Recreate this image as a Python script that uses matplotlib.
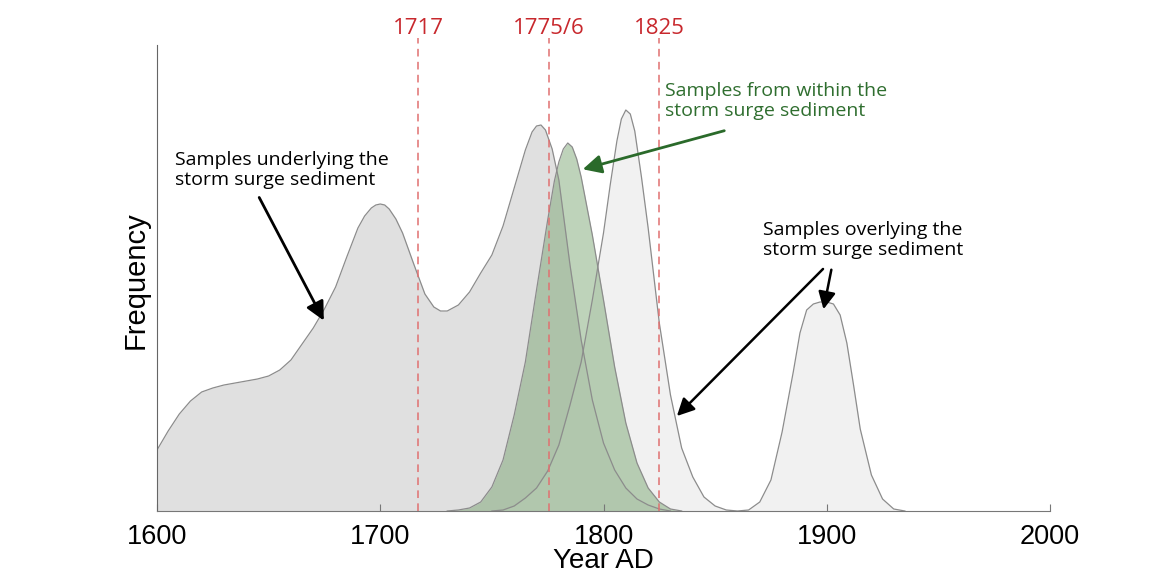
import matplotlib
matplotlib.use('Agg')
import matplotlib.pyplot as plt
import numpy as np

# frequency curves (arbitrary units)
under_year = [1600, 1605, 1610, 1615, 1620, 1625, 1630, 1635, 1640, 1645, 1650, 1655,
              1660, 1665, 1670, 1675, 1680, 1685, 1690, 1693, 1696, 1698, 1700, 1702,
              1704, 1707, 1710, 1715, 1720, 1724, 1727, 1730, 1735, 1740, 1745, 1750,
              1755, 1760, 1765, 1768, 1770, 1772, 1774, 1777, 1780, 1785, 1790, 1795,
              1800, 1805, 1810, 1815, 1820, 1825, 1830]
under_freq = [61, 80, 97, 110, 119, 123, 126, 128, 130, 132, 135, 141,
              151, 167, 183, 202, 224, 254, 283, 295, 303, 306, 307, 306,
              302, 292, 278, 247, 217, 204, 200, 200, 206, 219, 238, 256,
              285, 323, 361, 379, 385, 386, 381, 362, 331, 246, 171, 111,
              68, 41, 23, 12, 6, 2, 0]

within_year = [1730, 1735, 1740, 1745, 1750, 1755, 1760, 1765, 1770, 1775, 1778, 1780,
               1782, 1784, 1786, 1788, 1790, 1795, 1800, 1805, 1810, 1815, 1820, 1825,
               1830, 1835]
within_freq = [0, 1, 3, 9, 24, 51, 96, 149, 221, 291, 330, 349,
               362, 368, 364, 352, 334, 276, 211, 144, 88, 48, 23, 9,
               2, 0]

over_year = [1750, 1755, 1760, 1765, 1770, 1775, 1780, 1785, 1790, 1795, 1800, 1803,
             1806, 1808, 1810, 1812, 1814, 1817, 1820, 1825, 1830, 1835, 1840, 1845,
             1850, 1855, 1860, 1865, 1870, 1875, 1880, 1885, 1888, 1891, 1894, 1897,
             1900, 1903, 1906, 1909, 1912, 1915, 1920, 1925, 1930, 1935]
over_freq = [0, 1, 5, 13, 23, 40, 66, 106, 149, 211, 278, 326,
             370, 392, 401, 397, 380, 334, 283, 188, 116, 63, 34, 14,
             5, 1, 0, 1, 9, 31, 79, 139, 178, 201, 207, 209,
             209, 207, 196, 168, 126, 82, 36, 12, 2, 0]

events = [1717, 1775.5, 1825]
event_labels = ['1717', '1775/6', '1825']

plt.rcParams['font.family'] = ['Liberation Sans', 'DejaVu Sans']
note_font = ['Open Sans', 'DejaVu Sans']

fig = plt.figure(figsize=(11.55, 5.74), dpi=100)
ax = fig.add_axes([157 / 1155, 63 / 574, 893 / 1155, 466 / 574])

edge = '#8c8c8c'
ax.fill_between(under_year, under_freq, color='#e0e0e0', lw=0)
ax.fill_between(over_year, over_freq, color='#ececec', alpha=0.7, lw=0)
ax.fill_between(within_year, within_freq, color='#6f9f66', alpha=0.45, lw=0)
ax.plot(under_year, under_freq, color=edge, lw=0.9)
ax.plot(over_year, over_freq, color=edge, lw=0.9)
ax.plot(within_year, within_freq, color=edge, lw=0.9)

for yr, lab in zip(events, event_labels):
    ax.axvline(yr, ymin=0, ymax=1.016, color='#e07070', lw=1.1,
               dashes=(5, 3.5), clip_on=False)
    ax.text(yr, 483, lab, color='#c8282d', fontsize=16, ha='center',
            va='center', family=note_font)

ax.set_xlim(1600, 2000)
ax.set_ylim(0, 466)
ax.set_xticks([1600, 1700, 1800, 1900, 2000])
ax.set_yticks([])
ax.tick_params(axis='x', direction='in', length=5, width=0.8, color='#777777',
               labelsize=19.5, pad=9)
ax.spines['top'].set_visible(False)
ax.spines['right'].set_visible(False)
ax.spines['left'].set_color('#666666')
ax.spines['bottom'].set_color('#777777')
ax.set_xlabel('Year AD', fontsize=20, labelpad=-1)
ax.set_ylabel('Frequency', fontsize=21)
ax.yaxis.set_label_coords(-0.008, 0.496)

# annotations
ax.text(1608, 341, 'Samples underlying the\nstorm surge sediment', fontsize=14,
        family=note_font, ha='left', va='center', linespacing=1.2)
ax.annotate('', xy=(1675.3, 188), xytext=(1645.2, 316),
            arrowprops=dict(arrowstyle='-|>', color='black', lw=2, mutation_scale=28))

ax.text(1827.5, 410, 'Samples from within the\nstorm surge sediment', fontsize=14,
        family=note_font, color='#2f6e2f', ha='left', va='center', linespacing=1.2)
ax.annotate('', xy=(1789.5, 341), xytext=(1855.3, 381),
            arrowprops=dict(arrowstyle='-|>', color='#2a6a2a', lw=2, mutation_scale=28))

ax.text(1871.4, 271, 'Samples overlying the\nstorm surge sediment', fontsize=14,
        family=note_font, ha='left', va='center', linespacing=1.2)
ax.annotate('', xy=(1832, 93), xytext=(1899.2, 244),
            arrowprops=dict(arrowstyle='-|>', color='black', lw=1.8, mutation_scale=26))
ax.annotate('', xy=(1898.3, 199), xytext=(1902.3, 244),
            arrowprops=dict(arrowstyle='-|>', color='black', lw=1.8, mutation_scale=26))

fig.savefig('out.png', dpi=100)
